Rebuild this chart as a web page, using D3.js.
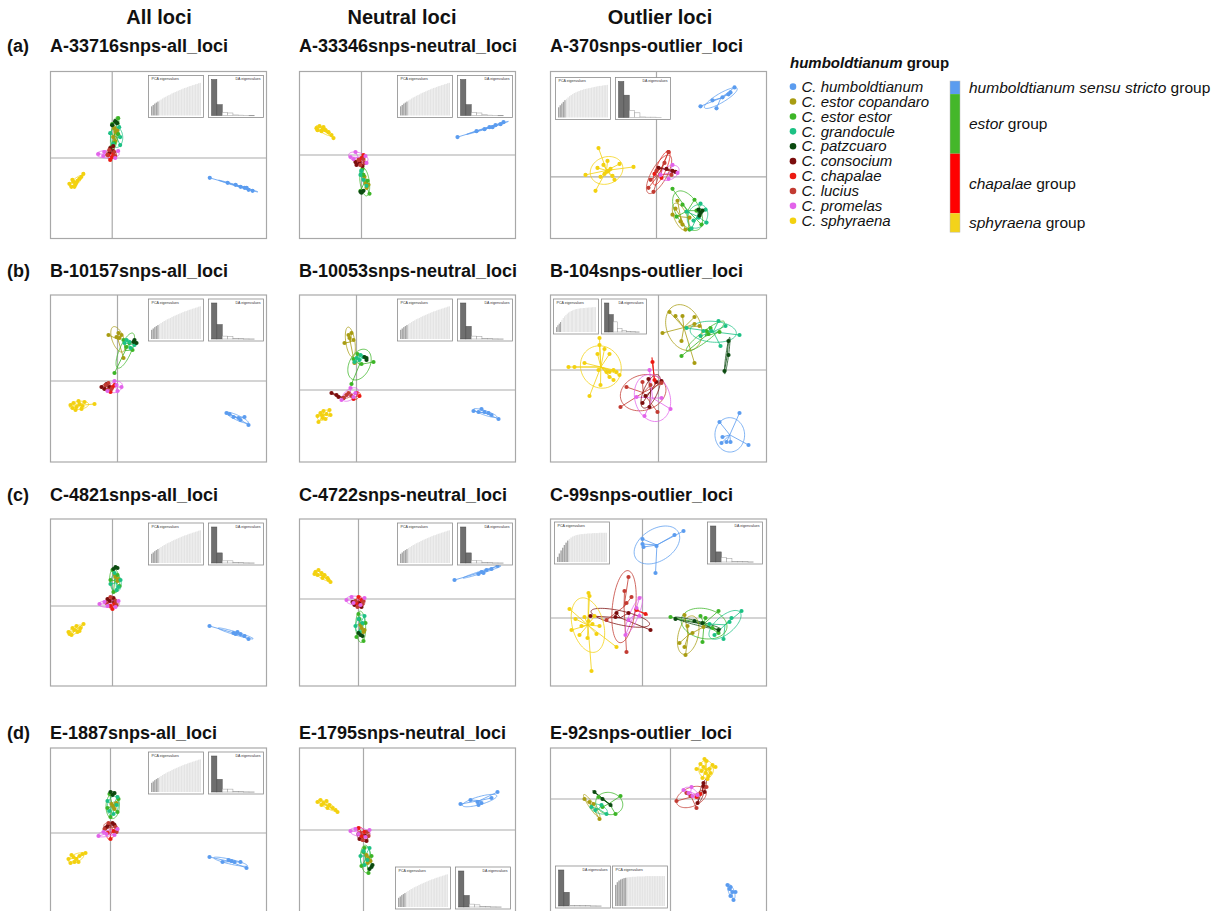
<!DOCTYPE html>
<html>
<head>
<meta charset="utf-8">
<script src="https://cdn.jsdelivr.net/npm/d3@7"></script>
<style>
  body { margin: 0; background: #fff; }
  svg { display: block; }
  text { font-family: "Liberation Sans", Arial, Helvetica, sans-serif; }
</style>
</head>
<body>
<svg id="fig" width="1220" height="911"></svg>
<script>
// ---------- species & groups ----------
const speciesNames = ["C. humboldtianum", "C. estor copandaro", "C. estor estor", "C. grandocule",
  "C. patzcuaro", "C. consocium", "C. chapalae", "C. lucius", "C. promelas", "C. sphyraena"];
const speciesColors = ["#5b9cef", "#a89c12", "#3db527", "#1cc184", "#0b4a10",
  "#7b0d0d", "#ec1a12", "#c23b32", "#e263ea", "#f3d10f"];
const groupNames = ["humboldtianum", "estor", "chapalae", "sphyraena"];
const groupSuffix = [" sensu stricto group", " group", " group", " group"];
const groupSizes = [1, 4, 4, 1];
const groupColors = ["#5b9cef", "#44b72a", "#ff0000", "#f3d31a"];

const columnHeaders = ["All loci", "Neutral loci", "Outlier loci"];
const rowLabels = ["(a)", "(b)", "(c)", "(d)"];

// ---------- discriminant scores (LD1, LD2) per species ----------
// order: hum, cop, est, gra, pat, con, cha, luc, pro, sph
const A_all = [
  [[9.8,-2.0],[11.6,-2.5],[12.4,-2.7],[12.9,-2.9],[13.3,-3.0],[13.7,-3.2],[14.1,-3.3],[13.5,-3.0]],
  [[0.2,3.0],[0.4,2.6],[0.1,2.1],[0.5,2.8],[0.3,1.7]],
  [[0.0,3.4],[0.6,2.4],[-0.1,1.1],[0.6,4.0],[0.2,1.5]],
  [[0.8,2.1],[-0.2,2.5],[0.7,3.1],[0.1,1.4],[0.8,1.3]],
  [[0.3,3.7],[0.0,3.3],[0.5,3.5]],
  [[-0.2,1.0],[0.1,0.7],[-0.3,0.5],[0.1,1.2]],
  [[0.0,0.1],[-0.2,-0.2],[0.1,0.4],[-0.4,0.3]],
  [[-0.5,0.3],[0.2,0.6],[-0.3,0.8],[0.3,0.2]],
  [[-1.4,0.4],[-0.8,0.6],[0.6,0.7],[0.3,0.0],[-0.9,0.2]],
  [[-4.3,-2.6],[-4.1,-2.9],[-3.9,-2.4],[-3.7,-2.7],[-3.5,-2.3],[-3.3,-2.1],[-3.1,-1.9],[-2.9,-1.6],[-3.6,-2.5],[-4.0,-2.2],[-3.8,-2.9]]
];
const A_neutral = [
  [[9.6,1.8],[11.5,2.4],[12.3,2.6],[12.8,2.8],[13.4,3.0],[13.9,3.1],[14.2,3.3],[13.1,2.8]],
  [[0.5,-3.3],[0.4,-2.8],[0.7,-3.0],[0.3,-2.2]],
  [[0.1,-1.4],[0.6,-2.6],[-0.1,-3.6],[0.8,-3.9],[0.2,-2.0]],
  [[0.2,-2.5],[-0.1,-2.0],[0.5,-3.1],[0.0,-1.6]],
  [[0.0,-3.8],[0.2,-3.6],[-0.1,-3.7]],
  [[-0.5,-1.0],[-0.2,-0.8],[-0.6,-0.7],[0.1,-1.1]],
  [[0.0,-0.3],[0.2,0.0],[-0.2,-0.5]],
  [[-0.3,-0.5],[0.3,-0.8],[-0.1,-1.0],[0.2,-0.4]],
  [[-1.1,-0.2],[-0.6,0.3],[0.4,-0.1],[0.5,-0.8],[-0.8,-0.4]],
  [[-4.5,2.7],[-4.2,2.9],[-3.9,2.6],[-3.6,2.5],[-3.3,2.3],[-3.0,2.0],[-2.8,1.7],[-3.8,2.8],[-4.0,2.4],[-4.4,2.5]]
];
const A_outlier = [
  [[4.4,7.1],[5.6,7.7],[6.6,8.0],[7.2,8.3],[7.8,9.0],[6.0,6.9],[7.4,8.5]],
  [[1.6,-3.8],[2.4,-4.5],[2.9,-5.3],[2.1,-2.4],[3.3,-4.1],[2.6,-4.8],[1.9,-3.2]],
  [[1.6,-1.2],[3.8,-2.3],[2.0,-4.0],[4.5,-4.8],[3.3,-5.3],[2.6,-2.8],[4.0,-3.4]],
  [[3.0,-3.5],[4.2,-4.1],[5.0,-4.6],[3.7,-4.4],[4.9,-3.3],[3.5,-5.2],[4.4,-2.7]],
  [[4.2,-3.3],[4.4,-3.6],[4.6,-3.4],[4.3,-3.9]],
  [[0.2,0.9],[1.6,0.6],[1.9,0.5],[1.0,0.8]],
  [[-0.2,0.3],[0.5,-0.1],[1.2,2.5]],
  [[1.2,2.5],[-0.8,-1.1],[0.0,0.6],[-0.6,-0.3],[0.8,1.4],[-0.3,-1.5],[1.5,0.2]],
  [[1.6,1.2],[2.1,0.4],[0.4,0.2],[1.2,-0.2]],
  [[-5.8,2.9],[-7.1,0.2],[-6.1,-1.4],[-2.3,1.0],[-4.2,-0.3],[-3.7,1.3],[-5.3,1.2],[-4.8,0.6],[-5.0,0.5],[-5.2,0.3],[-4.6,0.8],[-5.6,0.0],[-4.4,0.1],[-5.9,0.9],[-4.9,1.6]]
];
const B_all = [
  [[10.9,-3.2],[11.6,-3.6],[12.1,-3.7],[12.7,-3.6],[13.1,-4.4],[11.2,-3.3],[12.3,-3.9]],
  [[-0.9,4.6],[0.1,4.8],[0.4,4.6],[0.6,2.3],[-0.1,4.4],[0.2,4.3]],
  [[-0.3,0.8],[0.6,4.1],[1.2,3.8],[1.5,3.1],[0.9,3.4]],
  [[0.9,4.1],[1.2,3.9],[1.7,3.6],[0.7,3.8],[1.3,3.3]],
  [[1.7,4.1],[1.9,3.8],[1.6,3.9]],
  [[-1.6,-0.6],[-1.3,-0.8],[-0.8,-0.6],[-1.1,-0.3]],
  [[-0.5,-0.6],[-0.7,-1.1],[-0.3,-0.4]],
  [[-1.0,-0.9],[-1.2,-0.4],[-0.6,-0.8],[-0.9,-0.2]],
  [[-0.3,0.0],[0.4,-0.6],[0.0,-1.0],[-1.0,-1.0],[-0.1,-0.4]],
  [[-4.7,-2.4],[-4.4,-2.2],[-4.1,-2.6],[-3.8,-2.3],[-3.5,-2.5],[-3.3,-2.1],[-3.9,-2.0],[-4.2,-2.9],[-2.3,-2.3],[-3.6,-2.8],[-4.5,-2.7]]
];
const B_neutral = [
  [[11.7,-2.1],[12.5,-1.9],[13.2,-2.3],[13.5,-2.5],[14.2,-2.9],[12.2,-2.2],[12.8,-2.2]],
  [[-0.8,5.5],[-0.5,5.7],[-0.3,5.0],[-1.2,4.7],[-0.7,5.2],[-0.2,2.7]],
  [[-0.5,0.6],[1.7,2.8],[0.1,3.6],[0.5,2.6],[-0.3,3.1]],
  [[0.0,3.2],[0.3,3.0],[0.7,3.3],[-0.2,2.8],[0.4,3.5]],
  [[1.0,3.2],[1.0,3.0],[0.8,3.3]],
  [[-2.5,-0.3],[-1.8,-0.7],[-1.3,-0.8],[-2.0,-0.5]],
  [[0.3,-0.6],[0.0,-0.3],[-0.3,-0.9]],
  [[-1.0,-0.5],[-1.3,-0.8],[-0.5,-0.6],[-0.8,-0.3]],
  [[-0.6,0.2],[-0.1,-0.3],[-1.5,-1.0],[-0.3,-0.7]],
  [[-3.9,-2.6],[-3.6,-2.3],[-3.3,-2.1],[-3.0,-2.4],[-2.7,-2.0],[-3.4,-2.8],[-3.8,-3.2],[-3.1,-2.9],[-2.6,-2.5],[-3.5,-2.5]]
];
const B_outlier = [
  [[8.1,-4.3],[9.0,-7.5],[6.1,-5.2],[6.4,-6.7],[6.3,-7.3],[6.8,-7.2],[7.2,-7.2]],
  [[1.1,5.8],[1.7,5.4],[2.4,5.4],[0.4,3.7],[2.3,2.9],[3.6,5.3],[3.6,4.6],[3.6,0.7],[4.1,4.4]],
  [[2.3,1.4],[4.8,3.9],[6.1,3.8],[5.0,3.6],[5.2,4.2]],
  [[2.8,4.2],[4.2,3.4],[6.0,4.9],[6.7,4.4],[8.1,3.5],[4.5,3.9],[6.2,2.4],[5.3,3.9]],
  [[7.0,2.9],[7.0,1.5],[6.6,-0.1]],
  [[-1.0,-0.9],[-1.3,-2.6],[-0.9,-3.7],[-1.6,-3.3],[0.3,-1.1],[-0.2,-1.2]],
  [[-0.6,0.8],[-0.4,-1.0]],
  [[-3.2,-1.7],[-3.8,-3.7],[0.3,-1.3],[-0.1,-4.2],[-1.6,-1.2],[-0.8,-1.5]],
  [[-0.9,0.0],[-2.2,-2.7],[-1.4,-4.6],[0.3,-2.8],[1.2,-3.9]],
  [[-5.9,3.2],[-5.9,2.5],[-9.0,0.3],[-8.4,0.3],[-7.4,0.7],[-6.1,1.6],[-4.9,1.6],[-5.4,2.1],[-5.2,-0.2],[-4.9,-0.2],[-4.5,0.0],[-4.2,-0.2],[-3.9,-0.5],[-4.5,-1.0],[-5.8,-1.5],[-6.9,-2.6],[-6.0,0.0],[-4.9,-0.7]]
];
const C_all = [
  [[9.7,-2.0],[12.1,-2.7],[12.5,-2.6],[12.8,-2.8],[13.6,-3.3],[13.2,-3.0],[12.3,-2.8]],
  [[0.3,2.9],[0.5,2.5],[0.2,3.2],[0.6,2.7]],
  [[0.0,3.6],[0.7,2.0],[0.1,1.4],[0.5,3.1],[-0.2,2.6]],
  [[0.8,2.6],[-0.2,2.2],[0.4,1.6],[0.2,3.3],[0.6,1.9]],
  [[0.3,3.9],[0.1,3.7],[0.5,3.8]],
  [[-0.3,0.5],[0.1,0.8],[-0.5,0.7],[0.2,0.4]],
  [[0.0,-0.3],[-0.2,0.0],[0.2,0.2]],
  [[-0.6,0.3],[0.3,0.5],[-0.2,0.9],[0.4,0.1]],
  [[-1.3,0.2],[-0.8,0.4],[0.6,0.5],[0.3,-0.1],[-0.5,0.0]],
  [[-4.4,-2.6],[-4.1,-2.9],[-3.8,-2.4],[-3.5,-2.6],[-3.2,-2.2],[-2.9,-1.8],[-3.6,-2.0],[-4.0,-2.2],[-4.3,-2.8],[-3.3,-2.5]]
];
const C_neutral = [
  [[9.6,1.9],[12.0,2.5],[12.3,2.7],[12.8,2.9],[13.9,3.3],[13.3,3.0],[12.5,2.6]],
  [[0.3,-2.9],[0.5,-3.3],[0.2,-2.6],[0.6,-3.1]],
  [[0.0,-1.5],[0.7,-2.4],[-0.2,-3.8],[0.5,-4.2],[0.1,-2.0]],
  [[0.0,-2.0],[0.4,-2.4],[-0.3,-2.7],[0.6,-1.7],[0.1,-3.3]],
  [[0.2,-3.6],[0.0,-3.4],[0.4,-3.7]],
  [[-0.4,-0.6],[0.1,-0.4],[-0.6,-0.3],[0.3,-0.8]],
  [[0.0,0.2],[0.3,-0.1],[-0.2,-0.4]],
  [[-0.3,-0.2],[0.4,-0.5],[-0.1,-0.8],[0.5,-0.2]],
  [[-1.2,-0.1],[-0.7,0.2],[0.6,0.1],[0.2,-0.6],[-0.5,-0.4]],
  [[-4.3,2.7],[-4.0,2.9],[-3.7,2.6],[-3.4,2.4],[-3.1,2.1],[-2.8,1.7],[-3.6,2.1],[-4.1,2.4],[-4.4,2.5],[-3.0,1.9]]
];
const C_outlier = [
  [[0.0,7.9],[0.0,7.4],[0.1,7.1],[1.4,7.2],[3.2,8.3],[4.1,8.7],[1.3,4.5]],
  [[4.2,0.3],[3.7,-2.5],[4.2,-2.9],[4.3,-3.7],[4.5,-0.8],[6.1,-0.9],[5.0,-1.5]],
  [[5.8,0.2],[6.3,0.0],[7.0,-1.0],[7.6,-1.5],[6.0,-2.4],[2.8,0.1],[7.6,0.7]],
  [[9.9,0.7],[8.9,0.0],[8.7,-0.4],[6.7,-0.6],[8.1,-2.1],[7.2,-1.7]],
  [[3.3,-0.1],[7.6,-1.2],[5.2,-0.3],[6.0,-0.5]],
  [[-5.2,0.2],[-2.6,0.5],[-2.7,0.1],[-1.4,0.5],[0.8,-1.2]],
  [[0.3,0.4],[-0.6,0.8]],
  [[-1.4,4.1],[-1.8,2.7],[-1.1,2.1],[-3.6,-0.2],[-1.6,-3.4],[-1.6,1.5]],
  [[-0.3,2.0],[-0.3,0.2],[-1.4,-0.2],[-1.7,-1.7],[-0.6,1.0]],
  [[-5.4,2.5],[-5.3,2.2],[-7.3,0.9],[-7.1,-1.2],[-6.7,-0.1],[-5.1,-5.3],[-2.6,-2.9],[-4.6,-1.6],[-4.8,0.2],[-6.1,-0.8],[-5.8,0.1],[-4.3,-0.8],[-6.3,-1.7],[-5.5,-2.0],[-5.4,-0.3],[-5.0,-0.6]]
];
const D_all = [
  [[9.9,-2.4],[11.2,-2.9],[11.8,-2.7],[12.1,-2.8],[13.0,-2.9],[13.6,-3.5],[12.4,-2.9]],
  [[0.3,2.7],[0.6,3.0],[0.4,2.4],[0.1,2.9]],
  [[-0.1,3.9],[0.7,2.1],[0.0,1.6],[0.8,3.4],[-0.3,2.5]],
  [[0.6,2.8],[-0.3,3.2],[0.3,1.9],[0.7,3.6],[-0.1,2.2]],
  [[0.0,4.1],[0.4,4.0],[0.2,3.8]],
  [[-0.3,0.7],[0.2,1.0],[-0.5,0.5],[0.4,0.8]],
  [[0.0,-0.6],[-0.3,0.0],[0.3,0.2]],
  [[-0.6,0.4],[0.5,0.6],[-0.2,1.0],[0.6,0.1]],
  [[-1.2,-0.3],[-0.7,0.1],[0.7,0.4],[0.4,-0.2],[-0.4,-0.1]],
  [[-4.2,-2.6],[-4.0,-3.0],[-3.7,-2.4],[-3.4,-2.6],[-3.1,-2.3],[-2.8,-2.1],[-2.5,-2.0],[-3.6,-2.9],[-3.9,-2.2],[-3.2,-2.9]]
];
const D_neutral = [
  [[9.7,2.6],[10.7,3.0],[11.4,2.8],[11.8,2.7],[12.8,3.2],[13.4,3.8],[11.5,2.5]],
  [[0.5,-2.8],[0.3,-2.5],[0.7,-3.1],[0.4,-3.3]],
  [[0.1,-1.8],[0.8,-2.6],[-0.2,-3.6],[0.5,-4.3],[0.0,-2.2]],
  [[0.0,-2.1],[0.4,-3.0],[-0.3,-2.6],[0.6,-1.8],[0.1,-3.5]],
  [[0.8,-3.7],[0.6,-3.9],[0.9,-3.5]],
  [[-0.4,-0.9],[0.2,-0.6],[-0.5,-0.4],[0.3,-1.1]],
  [[-0.5,0.2],[0.1,-0.2],[-0.2,-0.6]],
  [[-0.3,-0.3],[0.5,-0.6],[-0.1,-1.0],[0.4,-0.2]],
  [[-1.3,-0.1],[-0.8,0.1],[0.6,0.0],[0.2,-0.7],[-0.5,-0.4]],
  [[-4.6,2.8],[-4.3,3.0],[-4.0,2.7],[-3.7,2.9],[-3.4,2.5],[-3.1,2.2],[-2.8,2.0],[-3.6,2.2],[-4.2,2.5],[-2.6,1.8]]
];
const D_outlier = [
  [[5.7,-8.6],[6.0,-8.8],[6.2,-9.3],[6.5,-9.3],[6.0,-9.7],[6.3,-10.1],[5.9,-9.0]],
  [[-8.6,0.0],[-7.1,-2.0],[-7.7,-0.5],[-8.1,-0.3]],
  [[-5.0,0.3],[-5.5,-1.5],[-6.8,-0.8],[-7.2,0.2]],
  [[-7.5,-1.1],[-6.4,-1.5],[-6.9,-0.6],[-7.9,-0.8]],
  [[-7.6,0.7],[-6.0,-0.6],[-6.8,0.0]],
  [[3.3,1.3],[3.4,0.7],[3.3,1.6],[2.7,-0.4]],
  [[3.0,0.5],[2.6,0.2]],
  [[0.6,-0.2],[2.6,-0.9],[3.6,1.2],[2.0,0.3],[1.6,0.6]],
  [[1.3,0.9],[2.1,1.2],[2.2,0.3],[2.7,0.4],[1.8,0.6]],
  [[2.6,3.0],[3.0,3.5],[3.3,3.2],[3.6,3.8],[3.9,3.0],[4.2,3.4],[4.5,3.2],[3.5,2.6],[3.8,2.3],[3.2,2.1],[4.0,2.6],[3.1,2.8],[3.7,2.0],[3.4,4.0]]
];

// ---------- eigenvalues ----------
// cumulative PCA variance (fraction) per retained/unretained PC
const pcaCumAll = [0.27,0.31,0.35,0.38,0.41,0.44,0.47,0.50,0.53,0.55,0.58,0.60,0.62,0.65,0.67,0.69,0.71,0.73,0.75,0.77,0.79,0.81,0.82,0.84,0.86,0.87,0.89,0.90,0.92,0.93,0.95,0.96];
const pcaCumOutA = [0.30,0.36,0.41,0.46,0.51,0.55,0.59,0.63,0.66,0.69,0.72,0.74,0.76,0.78,0.80,0.81,0.83,0.84,0.85,0.86,0.87,0.88,0.89,0.90,0.91,0.92,0.93,0.93,0.94,0.95,0.95,0.96];
const pcaCumOutB = [0.18,0.25,0.31,0.37,0.45,0.52,0.58,0.63,0.68,0.72,0.75,0.78,0.80,0.82,0.84,0.85,0.86,0.87,0.88,0.88,0.89,0.89,0.90,0.90,0.91,0.91,0.91,0.92,0.92,0.92];
const pcaCumOutC = [0.15,0.25,0.34,0.42,0.50,0.57,0.63,0.68,0.72,0.75,0.77,0.79,0.80,0.81,0.82,0.82,0.83,0.83,0.84,0.84,0.84,0.85,0.85,0.85,0.85,0.86,0.86,0.86,0.86,0.86];
const pcaCumOutD = [0.62,0.70,0.75,0.78,0.80,0.82,0.83,0.84,0.85,0.85,0.86,0.86,0.86,0.87,0.87,0.87,0.87,0.87,0.88,0.88,0.88,0.88,0.88,0.88,0.88,0.88,0.88,0.88,0.88,0.88];

const daA_all = [1, 0.30, 0.08, 0.07, 0.015, 0.010, 0.005, 0.003];
const daA_neutral = [1, 0.30, 0.08, 0.07, 0.020, 0.010, 0.005, 0.003];
const daA_outlier = [1, 0.62, 0.20, 0.13, 0.015, 0.010, 0.010, 0.005];
const daB_all = [1, 0.40, 0.08, 0.07, 0.015, 0.010, 0.005, 0.003];
const daB_neutral = [1, 0.35, 0.08, 0.07, 0.015, 0.010, 0.005, 0.003];
const daB_outlier = [1, 0.60, 0.35, 0.12, 0.060, 0.020, 0.010, 0.005];
const daC_all = [1, 0.28, 0.06, 0.06, 0.015, 0.010, 0.005, 0.003];
const daC_neutral = [1, 0.28, 0.07, 0.06, 0.020, 0.010, 0.005, 0.003];
const daC_outlier = [1, 0.28, 0.12, 0.10, 0.020, 0.015, 0.010, 0.005];
const daD_all = [1, 0.35, 0.08, 0.08, 0.015, 0.010, 0.005, 0.003];
const daD_neutral = [1, 0.32, 0.08, 0.06, 0.020, 0.010, 0.005, 0.003];
const daD_outlier = [1, 0.38, 0.02, 0.015, 0.010, 0.010, 0.005, 0.003];

// ---------- panels ----------
const panels = [
  { title: "A-33716snps-all_loci", row: 0, col: 0, xd: [-6.2, 15.5], yd: [-8.1, 8.7], pts: A_all, pca: pcaCumAll, keep: 5, da: daA_all, inset: "topright" },
  { title: "A-33346snps-neutral_loci", row: 0, col: 1, xd: [-6.2, 15.4], yd: [-8.4, 8.4], pts: A_neutral, pca: pcaCumAll, keep: 5, da: daA_neutral, inset: "topright" },
  { title: "A-370snps-outlier_loci", row: 0, col: 2, xd: [-10.6, 11.0], yd: [-6.2, 10.6], pts: A_outlier, pca: pcaCumOutA, keep: 5, da: daA_outlier, inset: "topleft" },
  { title: "B-10157snps-all_loci", row: 1, col: 0, xd: [-6.7, 14.9], yd: [-8.1, 8.6], pts: B_all, pca: pcaCumAll, keep: 5, da: daB_all, inset: "topright" },
  { title: "B-10053snps-neutral_loci", row: 1, col: 1, xd: [-5.7, 15.9], yd: [-7.2, 9.5], pts: B_neutral, pca: pcaCumAll, keep: 5, da: daB_neutral, inset: "topright" },
  { title: "B-104snps-outlier_loci", row: 1, col: 2, xd: [-10.8, 10.8], yd: [-9.2, 7.5], pts: B_outlier, pca: pcaCumOutB, keep: 4, da: daB_outlier, inset: "topleft-small" },
  { title: "C-4821snps-all_loci", row: 2, col: 0, xd: [-6.2, 15.4], yd: [-8.0, 8.7], pts: C_all, pca: pcaCumAll, keep: 5, da: daC_all, inset: "topright" },
  { title: "C-4722snps-neutral_loci", row: 2, col: 1, xd: [-5.9, 15.7], yd: [-8.7, 8.0], pts: C_neutral, pca: pcaCumAll, keep: 5, da: daC_neutral, inset: "topright" },
  { title: "C-99snps-outlier_loci", row: 2, col: 2, xd: [-9.2, 12.4], yd: [-6.8, 9.9], pts: C_outlier, pca: pcaCumOutC, keep: 7, da: daC_outlier, inset: "split" },
  { title: "E-1887snps-all_loci", row: 3, col: 0, xd: [-6.0, 15.6], yd: [-8.2, 8.5], pts: D_all, pca: pcaCumAll, keep: 5, da: daD_all, inset: "topright" },
  { title: "E-1795snps-neutral_loci", row: 3, col: 1, xd: [-6.4, 15.2], yd: [-8.5, 8.2], pts: D_neutral, pca: pcaCumAll, keep: 5, da: daD_neutral, inset: "bottomright" },
  { title: "E-92snps-outlier_loci", row: 3, col: 2, xd: [-12.0, 9.6], yd: [-11.6, 5.1], pts: D_outlier, pca: pcaCumOutD, keep: 7, da: daD_outlier, inset: "bottomleft" }
];

// ---------- layout ----------
const svg = d3.select("#fig");
const colX = [50.5, 299.5, 550.5];
const rowY = [71.5, 295, 519, 748];
const boxW = 216, boxH = 167;
const titleBase = [52, 276.5, 500.5, 739];
const headerX = [159, 402, 660];

svg.selectAll("text.header").data(columnHeaders).join("text")
  .attr("class", "header")
  .attr("x", (d, i) => headerX[i]).attr("y", 24)
  .attr("text-anchor", "middle")
  .attr("font-size", 20).attr("font-weight", "bold").attr("fill", "#111")
  .text(d => d);

svg.selectAll("text.rowlab").data(rowLabels).join("text")
  .attr("class", "rowlab")
  .attr("x", 7).attr("y", (d, i) => titleBase[i])
  .attr("font-size", 18).attr("font-weight", "bold").attr("fill", "#111")
  .text(d => d);

// ellipse of inertia (1.5 sd) from a set of scores
function inertiaEllipse(pts) {
  const n = pts.length;
  const mx = d3.mean(pts, p => p[0]), my = d3.mean(pts, p => p[1]);
  let sxx = 0, syy = 0, sxy = 0;
  pts.forEach(p => { const dx = p[0] - mx, dy = p[1] - my; sxx += dx * dx; syy += dy * dy; sxy += dx * dy; });
  sxx /= n; syy /= n; sxy /= n;
  const tr = sxx + syy, det = sxx * syy - sxy * sxy;
  const disc = Math.sqrt(Math.max(tr * tr / 4 - det, 0));
  const l1 = tr / 2 + disc, l2 = Math.max(tr / 2 - disc, 0);
  const th = 0.5 * Math.atan2(2 * sxy, sxx - syy);
  const a = 1.5 * Math.sqrt(l1), b = 1.5 * Math.sqrt(l2);
  const out = [];
  for (let k = 0; k <= 72; k++) {
    const t = k / 72 * 2 * Math.PI;
    out.push([mx + a * Math.cos(t) * Math.cos(th) - b * Math.sin(t) * Math.sin(th),
              my + a * Math.cos(t) * Math.sin(th) + b * Math.sin(t) * Math.cos(th)]);
  }
  return { c: [mx, my], poly: out };
}

function insetBoxes(mode, L, T) {
  let iw = 55, ih = 42, gap = 5;
  if (mode === "topleft-small") { iw = 45; ih = 35; gap = 3; }
  const R = L + boxW, B = T + boxH;
  if (mode === "topright") {
    const da = [R - 3 - iw, T + 4];
    return { pca: [da[0] - gap - iw, T + 4], da, iw, ih };
  }
  if (mode === "topleft") return { pca: [L + 5, T + 6], da: [L + 5 + iw + gap, T + 6], iw, ih };
  if (mode === "topleft-small") return { pca: [L + 3, T + 4], da: [L + 3 + iw + gap, T + 4], iw, ih };
  if (mode === "split") return { pca: [L + 4, T + 3], da: [R - 4 - iw, T + 3], iw, ih };
  if (mode === "bottomright") {
    const da = [R - 5 - iw, B - 6 - ih];
    return { pca: [da[0] - gap - iw, B - 6 - ih], da, iw, ih };
  }
  // bottomleft: DA first, then PCA
  return { da: [L + 5, B - 7 - ih], pca: [L + 5 + iw + 2, B - 7 - ih], iw, ih };
}

function drawPCAInset(g, x0, y0, iw, ih, cum, keep) {
  g.append("rect").attr("x", x0).attr("y", y0).attr("width", iw).attr("height", ih)
    .attr("fill", "#fff").attr("stroke", "#8c8c8c").attr("stroke-width", 0.8);
  g.append("text").attr("x", x0 + 3).attr("y", y0 + 4.5).attr("font-size", 3.6).attr("fill", "#333")
    .text("PCA eigenvalues");
  const bx = d3.scaleBand().domain(d3.range(cum.length)).range([x0 + 2.5, x0 + iw - 2.5]).paddingInner(0.12);
  const by = d3.scaleLinear().domain([0, 1]).range([y0 + ih - 2, y0 + 6]);
  g.selectAll(null).data(cum).join("rect")
    .attr("x", (d, i) => bx(i)).attr("width", bx.bandwidth())
    .attr("y", d => by(d)).attr("height", d => by(0) - by(d))
    .attr("fill", (d, i) => i < keep ? "#a6a6a6" : "#e4e4e4");
}

function drawDAInset(g, x0, y0, iw, ih, vals) {
  g.append("rect").attr("x", x0).attr("y", y0).attr("width", iw).attr("height", ih)
    .attr("fill", "#fff").attr("stroke", "#8c8c8c").attr("stroke-width", 0.8);
  g.append("text").attr("x", x0 + iw - 3).attr("y", y0 + 4.5).attr("text-anchor", "end")
    .attr("font-size", 3.6).attr("fill", "#333").text("DA eigenvalues");
  const bx = d3.scaleBand().domain(d3.range(vals.length)).range([x0 + 3, x0 + 3 + iw * 0.78]).paddingInner(0);
  const by = d3.scaleLinear().domain([0, d3.max(vals)]).range([y0 + ih - 2, y0 + 4]);
  g.selectAll(null).data(vals).join("rect")
    .attr("x", (d, i) => bx(i)).attr("width", bx.bandwidth())
    .attr("y", d => by(d)).attr("height", d => Math.max(by(0) - by(d), 0.4))
    .attr("fill", (d, i) => i < 2 ? "#6f6f6f" : "#fff")
    .attr("stroke", (d, i) => i < 2 ? "#4a4a4a" : "#9a9a9a")
    .attr("stroke-width", 0.5);
}

const line = d3.line();

panels.forEach((p, pi) => {
  const L = colX[p.col], T = rowY[p.row];
  const x = d3.scaleLinear().domain(p.xd).range([L, L + boxW]);
  const y = d3.scaleLinear().domain(p.yd).range([T + boxH, T]);
  const g = svg.append("g");

  g.append("text").attr("x", L - 0.5).attr("y", titleBase[p.row])
    .attr("font-size", 18).attr("font-weight", "bold").attr("fill", "#111").text(p.title);

  const clipId = "clip" + pi;
  g.append("clipPath").attr("id", clipId).append("rect")
    .attr("x", L).attr("y", T).attr("width", boxW).attr("height", boxH);

  g.append("rect").attr("x", L).attr("y", T).attr("width", boxW).attr("height", boxH)
    .attr("fill", "#fff");

  const plot = g.append("g").attr("clip-path", `url(#${clipId})`);
  // zero axes
  plot.append("line").attr("x1", x(0)).attr("x2", x(0)).attr("y1", T).attr("y2", T + boxH)
    .attr("stroke", "#aaaaaa").attr("stroke-width", 1.2);
  plot.append("line").attr("x1", L).attr("x2", L + boxW).attr("y1", y(0)).attr("y2", y(0))
    .attr("stroke", "#aaaaaa").attr("stroke-width", 1.2);

  const groupsGeo = p.pts.map(pts => inertiaEllipse(pts));

  // stars: centroid to each individual
  p.pts.forEach((pts, s) => {
    const c = groupsGeo[s].c;
    plot.selectAll(null).data(pts).join("line")
      .attr("x1", x(c[0])).attr("y1", y(c[1]))
      .attr("x2", d => x(d[0])).attr("y2", d => y(d[1]))
      .attr("stroke", speciesColors[s]).attr("stroke-width", 0.9).attr("stroke-opacity", 0.9);
  });
  // ellipses
  p.pts.forEach((pts, s) => {
    plot.append("path")
      .attr("d", line(groupsGeo[s].poly.map(q => [x(q[0]), y(q[1])])))
      .attr("fill", "none").attr("stroke", speciesColors[s])
      .attr("stroke-width", 0.9).attr("stroke-opacity", 0.85);
  });
  // individuals
  p.pts.forEach((pts, s) => {
    plot.selectAll(null).data(pts).join("circle")
      .attr("cx", d => x(d[0])).attr("cy", d => y(d[1])).attr("r", 2.1)
      .attr("fill", speciesColors[s]);
  });

  // frame
  g.append("rect").attr("x", L).attr("y", T).attr("width", boxW).attr("height", boxH)
    .attr("fill", "none").attr("stroke", "#a8a8a8").attr("stroke-width", 1.2);

  // eigenvalue insets
  const ib = insetBoxes(p.inset, L, T);
  drawPCAInset(g, ib.pca[0], ib.pca[1], ib.iw, ib.ih, p.pca, p.keep);
  drawDAInset(g, ib.da[0], ib.da[1], ib.iw, ib.ih, p.da);
});

// ---------- legend ----------
const leg = svg.append("g");
const legT = leg.append("text").attr("x", 790).attr("y", 68).attr("font-size", 15)
  .attr("font-weight", "bold").attr("fill", "#111");
legT.append("tspan").attr("font-style", "italic").text("humboldtianum");
legT.append("tspan").text(" group");

const rowScale = d3.scaleBand().domain(d3.range(speciesNames.length)).range([79.2, 79.2 + 14.9 * speciesNames.length]);
const rowMid = i => rowScale(i) + rowScale.bandwidth() / 2;

leg.selectAll("circle").data(speciesNames).join("circle")
  .attr("cx", 793).attr("cy", (d, i) => rowMid(i)).attr("r", 3.3)
  .attr("fill", (d, i) => speciesColors[i]);
leg.selectAll("text.sp").data(speciesNames).join("text")
  .attr("class", "sp")
  .attr("x", 801.5).attr("y", (d, i) => rowMid(i) + 5.2)
  .attr("font-size", 15).attr("font-style", "italic").attr("fill", "#111")
  .text(d => d);

const groupStart = d3.cumsum([0].concat(groupSizes.slice(0, -1)));
groupNames.forEach((gName, k) => {
  const first = groupStart[k], last = groupStart[k] + groupSizes[k] - 1;
  const y0 = rowScale(first) + (k === 0 ? 1.8 : 0);
  const y1 = rowScale(last) + rowScale.bandwidth() + (k === groupNames.length - 1 ? 4 : 0);
  leg.append("rect").attr("x", 950).attr("y", y0).attr("width", 10).attr("height", y1 - y0)
    .attr("fill", groupColors[k]);
  const t = leg.append("text").attr("x", 969).attr("y", (y0 + y1) / 2 + 5.2)
    .attr("font-size", 15.5).attr("fill", "#111");
  t.append("tspan").attr("font-style", "italic").text(gName);
  if (k === 0) {
    t.append("tspan").attr("font-style", "italic").text(" sensu stricto");
    t.append("tspan").text(" group");
  } else {
    t.append("tspan").text(groupSuffix[k]);
  }
});
leg.append("rect").attr("x", 950).attr("y", rowScale(0) + 1.8).attr("width", 10)
  .attr("height", rowScale(speciesNames.length - 1) + rowScale.bandwidth() + 4 - rowScale(0) - 1.8)
  .attr("fill", "none").attr("stroke", "#bbb").attr("stroke-width", 0.5);
</script>
</body>
</html>
